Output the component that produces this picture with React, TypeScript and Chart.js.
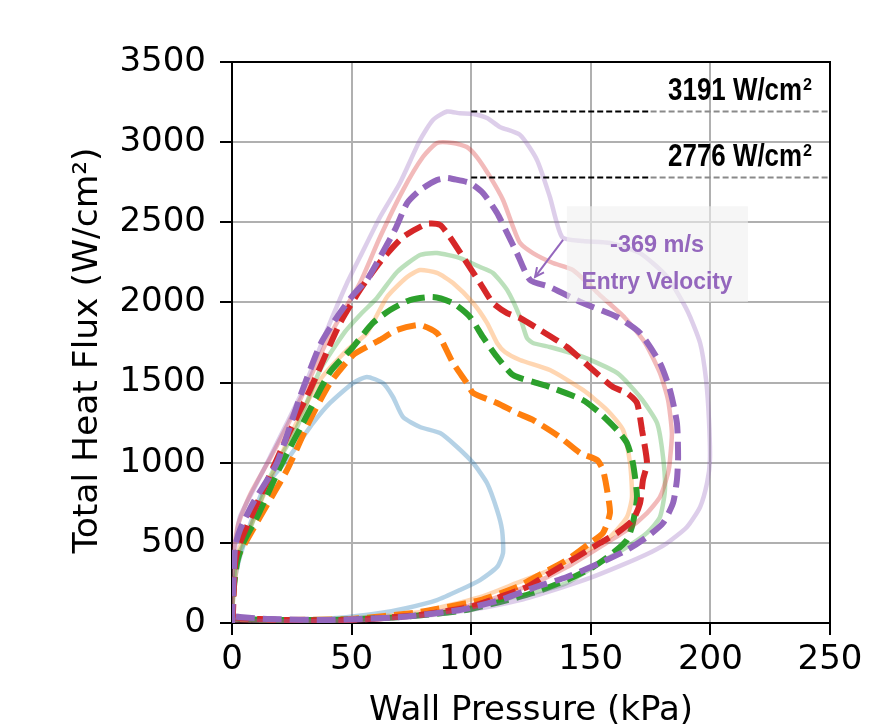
import React, { useEffect, useRef } from 'react';
import { Chart, registerables } from 'chart.js';

Chart.register(...registerables);

// ---- axis ticks ----
const xTicks = [0, 50, 100, 150, 200, 250];
const yTicks = [0, 500, 1000, 1500, 2000, 2500, 3000, 3500];
const xTitle = 'Wall Pressure (kPa)';
const yTitle = 'Total Heat Flux (W/cm²)';

// ---- series (Wall Pressure kPa, Total Heat Flux W/cm2) ----
const blueX = [0, 0.4, 3.3, 13.0, 23.0, 33.9, 41.0, 50.6, 56.4, 63.1, 67.3, 71.5, 78.6, 87.0, 94.1, 100.8, 106.6, 110.8, 112.9, 113.3, 110.8, 103.7, 95.3, 85.7, 73.2, 61.9, 43.9, 23.0, 3.3, 0];
const blueY = [0, 206, 412, 830, 1017, 1248, 1373, 1497, 1535, 1497, 1410, 1285, 1223, 1185, 1098, 998, 873, 705, 580, 437, 349, 268, 206, 143, 94, 62, 31, 19, 19, 19];

const orangeSolidX = [0, 0.4, 2.1, 3.3, 7.5, 15.9, 25.5, 36.8, 48.1, 56.4, 64.8, 73.2, 78.6, 85.7, 92.4, 100.8, 106.6, 110.8, 114.1, 120.4, 132.9, 146.7, 156.8, 163.5, 166.4, 167.2, 165.1, 158.0, 146.7, 132.9, 119.1, 103.7, 78.6, 49.3, 20.0, 3.3, 0];
const orangeSolidY = [0, 143, 362, 474, 599, 892, 1204, 1516, 1703, 1809, 2034, 2159, 2202, 2184, 2121, 1996, 1872, 1747, 1691, 1641, 1578, 1454, 1329, 1204, 998, 786, 661, 537, 437, 331, 250, 162, 69, 25, 19, 25, 31];

const orangeDashX = [0, 0.4, 1.3, 4.6, 11.7, 23.0, 32.6, 41.0, 50.6, 57.7, 61.9, 68.9, 78.6, 85.7, 88.2, 92.4, 98.2, 100.8, 110.8, 119.1, 125.8, 137.1, 145.5, 152.6, 155.1, 156.8, 158.0, 155.1, 149.7, 140.0, 130.0, 119.1, 103.7, 78.6, 49.3, 20.0, 3.3, 0];
const orangeDashY = [0, 162, 374, 474, 661, 955, 1267, 1497, 1672, 1734, 1766, 1828, 1859, 1809, 1747, 1622, 1497, 1435, 1373, 1310, 1267, 1160, 1061, 1017, 955, 830, 686, 562, 499, 393, 312, 225, 143, 69, 25, 19, 25, 31];

const greenSolidX = [0, 0.4, 1.7, 6.3, 15.9, 27.2, 36.8, 47.2, 53.5, 60.6, 69.0, 78.6, 85.7, 95.3, 103.7, 109.1, 115.0, 120.4, 123.3, 125.8, 132.9, 146.7, 161.0, 170.6, 177.7, 180.2, 181.0, 178.9, 173.5, 165.1, 153.8, 140.0, 125.8, 112.0, 95.3, 70.2, 41.0, 15.9, 3.3, 0];
const greenSolidY = [0, 143, 393, 537, 911, 1223, 1578, 1816, 1922, 2028, 2190, 2296, 2308, 2277, 2221, 2184, 2078, 1909, 1778, 1747, 1722, 1660, 1560, 1410, 1248, 1036, 830, 661, 562, 474, 374, 250, 187, 143, 81, 37, 19, 19, 25, 31];

const greenDashX = [0, 0.4, 2.1, 4.6, 10.5, 20.1, 29.7, 41.0, 50.6, 58.9, 66.1, 74.4, 84.0, 92.4, 99.5, 104.9, 110.8, 117.5, 125.8, 132.9, 146.7, 153.8, 161.0, 165.1, 167.6, 169.3, 167.6, 165.1, 159.3, 150.9, 140.0, 125.8, 112.0, 95.3, 70.2, 41.0, 15.9, 3.3, 0];
const greenDashY = [0, 162, 374, 499, 661, 973, 1248, 1566, 1722, 1872, 1953, 2015, 2034, 1996, 1909, 1784, 1660, 1547, 1504, 1472, 1391, 1310, 1204, 1123, 998, 786, 624, 518, 437, 349, 268, 187, 131, 75, 37, 19, 19, 25, 31];

const redSolidX = [0, 0.4, 2.5, 7.5, 16.7, 28.4, 38.9, 45.2, 53.5, 61.9, 71.5, 79.8, 85.7, 92.4, 98.2, 102.4, 107.9, 113.3, 117.5, 120.4, 125.8, 134.2, 142.6, 153.8, 164.3, 172.7, 178.9, 182.3, 183.9, 183.1, 182.3, 178.9, 173.5, 165.1, 153.8, 140.0, 124.6, 103.7, 78.6, 49.3, 20.0, 3.3, 0];
const redSolidY = [0, 393, 611, 799, 1048, 1391, 1734, 1909, 2121, 2408, 2701, 2907, 2995, 2995, 2970, 2907, 2783, 2639, 2471, 2371, 2308, 2246, 2202, 2046, 1903, 1747, 1560, 1391, 1185, 1017, 936, 786, 686, 580, 474, 349, 237, 125, 50, 12, 6, 12, 19];

const redDashX = [0, 0.4, 1.3, 3.3, 11.7, 23.0, 32.6, 45.2, 53.5, 61.9, 71.5, 81.5, 87.0, 91.1, 96.6, 103.7, 109.1, 115.0, 120.4, 128.8, 140.0, 150.9, 159.3, 165.1, 169.3, 171.4, 173.5, 171.8, 170.6, 167.6, 161.0, 153.8, 144.2, 132.9, 123.3, 112.0, 99.5, 78.6, 49.3, 20.0, 3.3, 0];
const redDashY = [0, 62, 374, 499, 786, 1160, 1454, 1872, 2078, 2252, 2408, 2490, 2483, 2408, 2283, 2121, 1996, 1934, 1903, 1828, 1722, 1578, 1472, 1435, 1373, 1204, 998, 892, 749, 643, 562, 499, 412, 312, 225, 162, 100, 50, 19, 19, 31, 37];

const purpleSolidX = [0, 0.4, 1.7, 3.3, 9.6, 15.9, 29.7, 39.7, 48.1, 53.5, 61.9, 70.2, 78.6, 84.0, 89.9, 95.3, 100.8, 106.6, 112.0, 120.4, 127.5, 132.9, 138.0, 146.7, 158.0, 170.6, 181.9, 190.2, 195.7, 198.2, 199.4, 199.8, 198.6, 195.7, 190.2, 181.9, 172.7, 162.2, 149.7, 137.1, 120.4, 99.5, 70.2, 41.0, 11.7, 3.3, 0];
const purpleSolidY = [0, 331, 518, 661, 849, 1036, 1454, 1828, 2121, 2283, 2533, 2745, 3013, 3138, 3191, 3180, 3176, 3151, 3095, 3045, 2889, 2658, 2408, 2383, 2371, 2308, 2159, 1953, 1747, 1516, 1267, 1017, 873, 724, 599, 499, 424, 356, 281, 218, 143, 81, 31, 12, 12, 19, 12];

const purpleDashX = [0, 0.4, 1.3, 3.3, 8.8, 18.8, 28.4, 36.8, 43.9, 50.6, 56.4, 61.9, 68.1, 73.2, 78.6, 85.7, 90.0, 92.4, 99.5, 104.9, 110.8, 115.0, 119.1, 124.6, 132.9, 146.7, 161.0, 170.6, 178.9, 183.1, 186.0, 186.5, 186.0, 184.4, 180.2, 173.5, 165.1, 153.8, 140.0, 125.8, 112.0, 95.3, 70.2, 41.0, 15.9, 3.3, 0];
const purpleDashY = [0, 162, 474, 580, 749, 998, 1410, 1734, 1909, 2046, 2140, 2283, 2452, 2620, 2701, 2764, 2776, 2770, 2745, 2683, 2558, 2433, 2308, 2140, 2096, 1996, 1909, 1809, 1622, 1454, 1248, 1036, 892, 749, 624, 537, 455, 374, 287, 218, 143, 81, 37, 19, 25, 37, 44];

// ---- annotations ----
const refLevels = [3191, 2776];
const refLabels = ['3191 W/cm', '2776 W/cm'];
const refStartX = 100;
const refSplitX = 175;
const velocityLines = ['-369 m/s', 'Entry Velocity'];

const TAB = {
  blue: [31, 119, 180],
  orange: [255, 127, 14],
  green: [44, 160, 44],
  red: [214, 39, 40],
  purple: [148, 103, 189],
};
const rgba = (c: number[], a: number) => `rgba(${c[0]},${c[1]},${c[2]},${a})`;

const seriesDefs = [
  { label: 'blue', xs: blueX, ys: blueY, color: TAB.blue, dashed: false, alpha: 0.33 },
  { label: 'orange solid', xs: orangeSolidX, ys: orangeSolidY, color: TAB.orange, dashed: false, alpha: 0.32 },
  { label: 'orange dashed', xs: orangeDashX, ys: orangeDashY, color: TAB.orange, dashed: true, alpha: 1 },
  { label: 'green solid', xs: greenSolidX, ys: greenSolidY, color: TAB.green, dashed: false, alpha: 0.32 },
  { label: 'green dashed', xs: greenDashX, ys: greenDashY, color: TAB.green, dashed: true, alpha: 1 },
  { label: 'red solid', xs: redSolidX, ys: redSolidY, color: TAB.red, dashed: false, alpha: 0.32 },
  { label: 'red dashed', xs: redDashX, ys: redDashY, color: TAB.red, dashed: true, alpha: 1 },
  { label: 'purple solid', xs: purpleSolidX, ys: purpleSolidY, color: TAB.purple, dashed: false, alpha: 0.32 },
  { label: 'purple dashed', xs: purpleDashX, ys: purpleDashY, color: TAB.purple, dashed: true, alpha: 1 },
];

const BOLD = '"Liberation Sans", Arial, sans-serif';

// draw text squeezed horizontally to a given width
function fitText(ctx: CanvasRenderingContext2D, text: string, font: string, x: number, y: number, width: number, align: 'left' | 'center') {
  ctx.save();
  ctx.font = font;
  ctx.textAlign = 'left';
  ctx.textBaseline = 'alphabetic';
  const w = ctx.measureText(text).width;
  const k = width / w;
  const left = align === 'center' ? x - width / 2 : x;
  ctx.translate(left, y);
  ctx.scale(k, 1);
  ctx.fillText(text, 0, 0);
  ctx.restore();
}

const annotationPlugin = {
  id: 'annotations',
  afterDatasetsDraw(chart: any) {
    const { ctx, chartArea: ca, scales } = chart;
    const xs = scales.x;
    const ys = scales.y;
    ctx.save();

    // top/right spines
    ctx.strokeStyle = '#000';
    ctx.lineWidth = 2;
    ctx.setLineDash([]);
    ctx.beginPath();
    ctx.moveTo(ca.left - 1, ca.top);
    ctx.lineTo(ca.right, ca.top);
    ctx.lineTo(ca.right, ca.bottom + 1);
    ctx.stroke();

    // reference lines + labels
    const x0 = xs.getPixelForValue(refStartX);
    const xm = xs.getPixelForValue(refSplitX);
    const x1 = xs.getPixelForValue(xs.max);
    const textLeft = xs.getPixelForValue(182.3);
    const textRight = xs.getPixelForValue(242.5);
    refLevels.forEach((v, i) => {
      const py = Math.round(ys.getPixelForValue(v)) - 0.5;
      ctx.lineWidth = 2;
      ctx.setLineDash([6, 3]);
      ctx.strokeStyle = '#000';
      ctx.beginPath();
      ctx.moveTo(x0, py);
      ctx.lineTo(xm, py);
      ctx.stroke();
      ctx.strokeStyle = '#8a8a8a';
      ctx.beginPath();
      ctx.moveTo(xm, py);
      ctx.lineTo(x1, py);
      ctx.stroke();
      ctx.setLineDash([]);

      ctx.fillStyle = '#000';
      const supW = 9;
      fitText(ctx, refLabels[i], `bold 31px ${BOLD}`, textLeft, py - 12, textRight - textLeft - supW - 1, 'left');
      fitText(ctx, '2', `bold 17px ${BOLD}`, textRight - supW, py - 22, supW, 'left');
    });

    // velocity box
    const bx0 = xs.getPixelForValue(140);
    const bx1 = xs.getPixelForValue(215.7);
    const by0 = ys.getPixelForValue(2600);
    const by1 = ys.getPixelForValue(2003);
    ctx.fillStyle = 'rgba(240,240,240,0.6)';
    ctx.fillRect(bx0, by0, bx1 - bx0, by1 - by0);

    const purple = rgba(TAB.purple, 1);
    ctx.fillStyle = purple;
    const cx = xs.getPixelForValue(177.7);
    fitText(ctx, velocityLines[0], `bold 24px ${BOLD}`, cx, ys.getPixelForValue(2315), 94, 'center');
    fitText(ctx, velocityLines[1], `bold 24px ${BOLD}`, cx, ys.getPixelForValue(2084), 151, 'center');

    // arrow
    const ax0 = xs.getPixelForValue(138.4);
    const ay0 = ys.getPixelForValue(2390);
    const ax1 = xs.getPixelForValue(126.7);
    const ay1 = ys.getPixelForValue(2159);
    ctx.strokeStyle = purple;
    ctx.lineWidth = 2;
    ctx.beginPath();
    ctx.moveTo(ax0, ay0);
    ctx.lineTo(ax1, ay1);
    ctx.stroke();
    const ang = Math.atan2(ay1 - ay0, ax1 - ax0);
    const hl = 10;
    ctx.beginPath();
    ctx.moveTo(ax1 - hl * Math.cos(ang - 0.45), ay1 - hl * Math.sin(ang - 0.45));
    ctx.lineTo(ax1, ay1);
    ctx.lineTo(ax1 - hl * Math.cos(ang + 0.45), ay1 - hl * Math.sin(ang + 0.45));
    ctx.stroke();

    // y axis title (drawn manually for exact placement)
    ctx.fillStyle = '#000';
    ctx.font = '34.5px "DejaVu Sans", sans-serif';
    ctx.textAlign = 'center';
    ctx.textBaseline = 'alphabetic';
    ctx.translate(97, (ca.top + ca.bottom) / 2 + 8);
    ctx.rotate(-Math.PI / 2);
    ctx.fillText(yTitle, 0, 0);

    ctx.restore();
  },
};

export default function App() {
  const canvasRef = useRef<HTMLCanvasElement | null>(null);

  useEffect(() => {
    const canvas = canvasRef.current;
    if (!canvas) return;
    const n = seriesDefs.length;
    const datasets = seriesDefs.map((s, i) => ({
      label: s.label,
      data: s.xs.map((x, k) => ({ x, y: s.ys[k] })),
      borderColor: rgba(s.color, s.alpha),
      backgroundColor: rgba(s.color, s.alpha),
      borderWidth: s.dashed ? 6 : 4.5,
      borderDash: s.dashed ? [19, 8] : [],
      borderCapStyle: 'butt' as const,
      borderJoinStyle: 'round' as const,
      pointRadius: 0,
      pointHoverRadius: 0,
      tension: 0.2,
      fill: false,
      showLine: true,
      order: n - i,
    }));

    const tickFont = { family: '"DejaVu Sans", sans-serif', size: 34 };
    const titleFont = { family: '"DejaVu Sans", sans-serif', size: 34 };

    const chart = new Chart(canvas, {
      type: 'line',
      data: { datasets },
      plugins: [annotationPlugin],
      options: {
        animation: false,
        responsive: false,
        devicePixelRatio: 1,
        layout: { padding: { top: 62, right: 61, left: 0, bottom: 0 } },
        plugins: { legend: { display: false }, tooltip: { enabled: false } },
        scales: {
          x: {
            type: 'linear',
            min: 0,
            max: 250,
            afterBuildTicks: (scale: any) => {
              scale.ticks = xTicks.map((v) => ({ value: v }));
            },
            afterFit: (scale: any) => {
              scale.height = 105;
            },
            ticks: {
              font: tickFont,
              color: '#000',
              padding: 5,
              maxRotation: 0,
              autoSkip: false,
              callback: (v: any) => String(v),
            },
            grid: {
              color: '#b0b0b0',
              lineWidth: 2,
              tickColor: '#000',
              tickLength: 12,
              tickWidth: 2,
            },
            border: { color: '#000', width: 2 },
            title: {
              display: true,
              text: xTitle,
              font: titleFont,
              color: '#000',
              padding: { top: 0, bottom: -4 },
            },
          },
          y: {
            type: 'linear',
            min: 0,
            max: 3500,
            afterBuildTicks: (scale: any) => {
              scale.ticks = yTicks.map((v) => ({ value: v }));
            },
            afterFit: (scale: any) => {
              scale.width = 232;
            },
            ticks: {
              font: tickFont,
              color: '#000',
              padding: 14,
              autoSkip: false,
              callback: (v: any) => String(v),
            },
            grid: {
              color: '#b0b0b0',
              lineWidth: 2,
              tickColor: '#000',
              tickLength: 12,
              tickWidth: 2,
            },
            border: { color: '#000', width: 2 },
            title: { display: false },
          },
        },
      },
    } as any);

    return () => chart.destroy();
  }, []);

  return (
    <div style={{ position: 'absolute', left: 0, top: 0, width: 891, height: 728, background: '#fff' }}>
      <canvas ref={canvasRef} width={891} height={728} style={{ display: 'block' }} />
    </div>
  );
}
